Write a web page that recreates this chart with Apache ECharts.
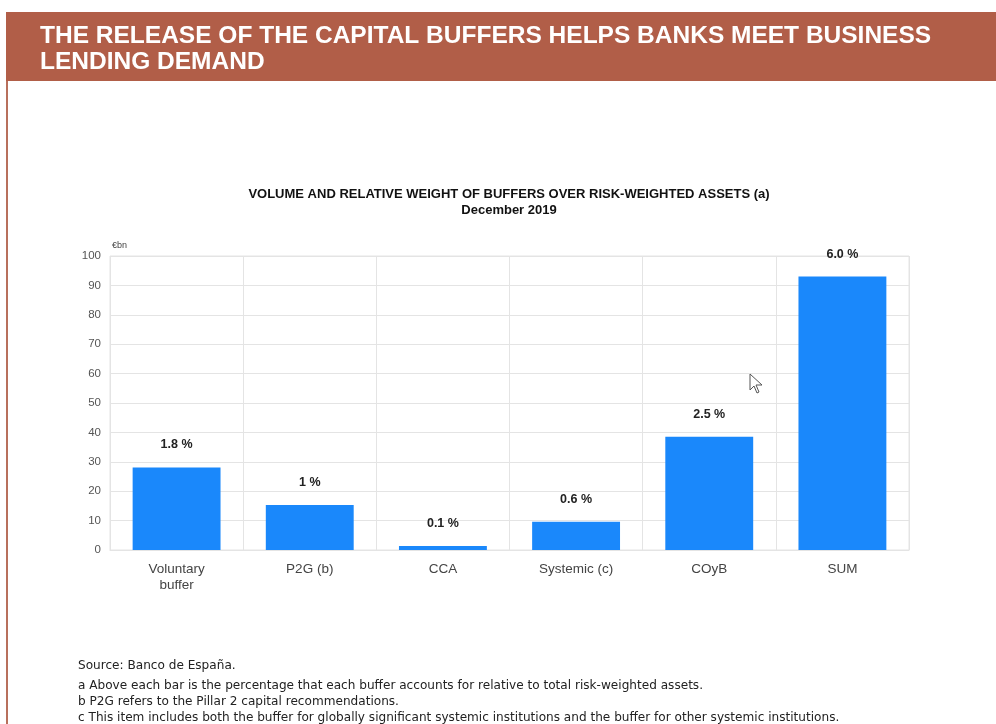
<!DOCTYPE html>
<html>
<head>
<meta charset="utf-8">
<script src="https://cdn.jsdelivr.net/npm/echarts@6/dist/echarts.min.js"></script>
<style>
html,body{margin:0;padding:0;background:#fff;}
#chart{width:996px;height:724px;}
</style>
</head>
<body>
<div id="chart"></div>
<script>
const categories = ["Voluntary\nbuffer", "P2G (b)", "CCA", "Systemic (c)", "COyB", "SUM"];
const volumes = [28.1, 15.3, 1.4, 9.6, 38.5, 93.0];
const shareLabels = ["1.8 %", "1 %", "0.1 %", "0.6 %", "2.5 %", "6.0 %"];
const yTicks = [0, 10, 20, 30, 40, 50, 60, 70, 80, 90, 100];
const footnotes = [
  "Source: Banco de España.",
  "a Above each bar is the percentage that each buffer accounts for relative to total risk-weighted assets.",
  "b P2G refers to the Pillar 2 capital recommendations.",
  "c This item includes both the buffer for globally significant systemic institutions and the buffer for other systemic institutions."
];

const chart = echarts.init(document.getElementById('chart'), null, {renderer: 'canvas'});
const FONT = '"Liberation Sans", Arial, sans-serif';
const WIDE = '"DejaVu Sans", sans-serif';

const footGraphics = footnotes.map((t, i) => ({
  type: 'text', left: 78, top: [660, 680, 696, 712][i],
  style: {text: t, font: '12.1px ' + WIDE, fill: '#222'}
}));

chart.setOption({
  animation: false,
  title: {
    text: 'VOLUME AND RELATIVE WEIGHT OF BUFFERS OVER RISK-WEIGHTED ASSETS (a)',
    subtext: 'December 2019',
    left: 504, top: 183, textAlign: 'center', itemGap: 3,
    textStyle: {fontFamily: FONT, fontSize: 13, fontWeight: 'bold', color: '#111'},
    subtextStyle: {fontFamily: FONT, fontSize: 13, fontWeight: 'bold', color: '#111'}
  },
  grid: {left: 110, right: 87, top: 256, bottom: 174, containLabel: false,
         show: true, borderColor: '#e4e4e4', borderWidth: 1},
  xAxis: {
    type: 'category', data: categories,
    axisLine: {show: true, lineStyle: {color: '#e4e4e4'}},
    axisTick: {show: false},
    splitLine: {show: true, lineStyle: {color: '#e4e4e4', width: 1}},
    axisLabel: {fontFamily: FONT, fontSize: 13.5, color: '#444', margin: 11, lineHeight: 16, interval: 0}
  },
  yAxis: {
    type: 'value', min: 0, max: 100, interval: 10,
    name: '€bn', nameLocation: 'end', nameGap: 6,
    nameTextStyle: {fontFamily: FONT, fontSize: 9, color: '#444', align: 'left', padding: [0, 0, 0, 2]},
    axisLine: {show: false}, axisTick: {show: false},
    splitLine: {lineStyle: {color: '#e4e4e4', width: 1}},
    axisLabel: {fontFamily: FONT, fontSize: 11.5, color: '#555', margin: 9,
      formatter: v => yTicks.includes(v) ? String(v) : ''}
  },
  series: [{
    type: 'bar', data: volumes, barCategoryGap: '34%',
    itemStyle: {color: '#1a88fb'},
    label: {show: true, position: 'top', distance: 16,
      fontFamily: FONT, fontSize: 12.5, fontWeight: 'bold', color: '#222',
      formatter: p => shareLabels[p.dataIndex]}
  }],
  graphic: [
    {type: 'rect', shape: {x: 6, y: 12, width: 990, height: 69}, style: {fill: '#b15e48'}, z: 0},
    {type: 'rect', shape: {x: 6, y: 81, width: 2, height: 643}, style: {fill: '#b8705c'}, z: 0},
    {type: 'text', left: 40, top: 23,
      style: {text: 'THE RELEASE OF THE CAPITAL BUFFERS HELPS BANKS MEET BUSINESS\nLENDING DEMAND',
        font: 'bold 24.5px ' + FONT, fill: '#fff', lineHeight: 26}},
    {type: 'polygon', z: 100,
      shape: {points: [[750,374],[750,390],[754,386],[757,393],[759,392],[756,385],[762,385]]},
      style: {fill: '#fff', stroke: '#555', lineWidth: 1}},
    ...footGraphics
  ]
});
</script>
</body>
</html>
